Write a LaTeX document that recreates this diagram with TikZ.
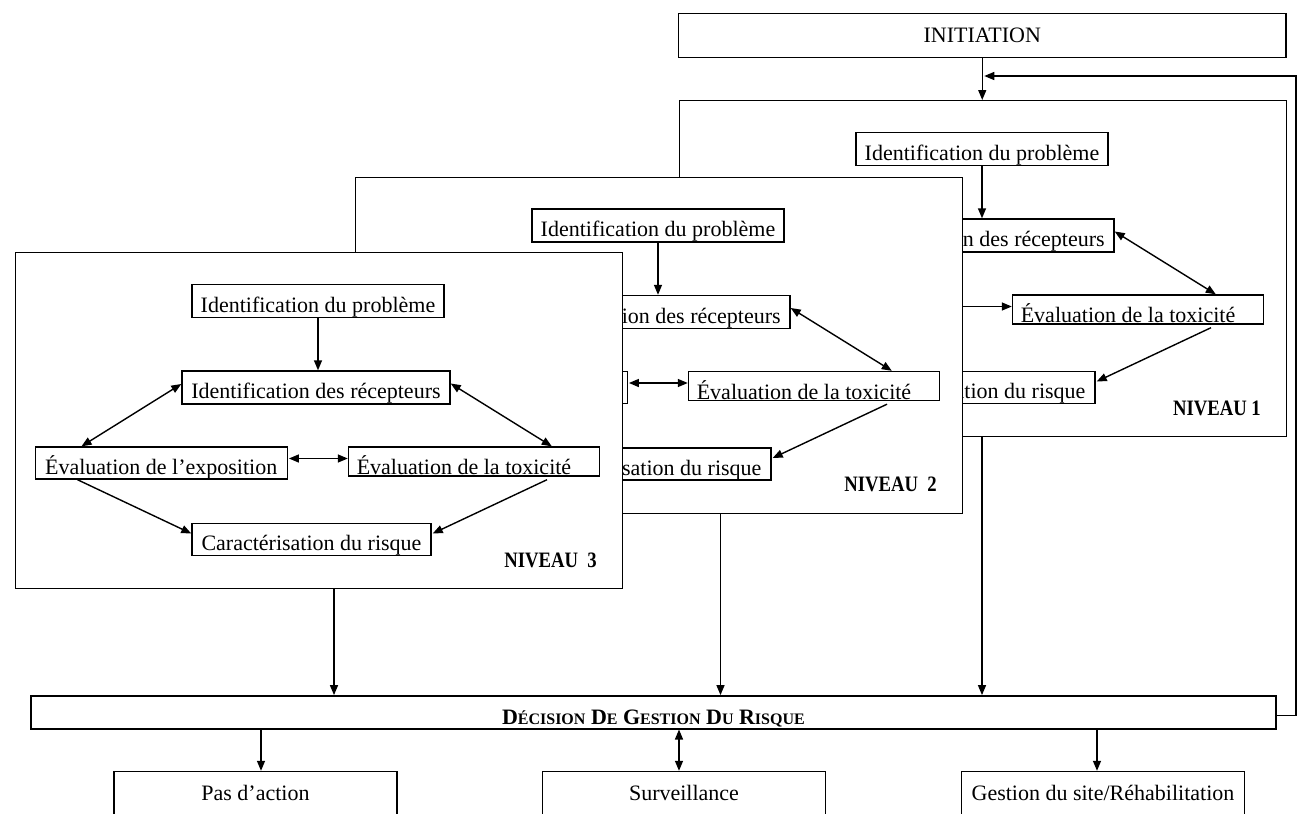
\documentclass[tikz,border=0pt]{standalone}
\usepackage{fontspec}
\usepackage{graphicx}
\setmainfont{Liberation Serif}
\usetikzlibrary{arrows.meta,calc}

% text lowered inside a box whose own height/depth is zero
\newcommand\low[2][-5.5pt]{\raisebox{#1}{#2}}
% hand-made small capitals: large initial, smaller rest
\newcommand\bigsc[2]{{\fontsize{11}{13}\selectfont #1}{\fontsize{8}{10}\selectfont #2}}

\tikzset{
  exptext/.store in=\exptext,
  exptext={Évaluation de l’exposition},
  arr/.style={-{Triangle[length=5pt,width=4pt]}},
  dblarr/.style={{Triangle[length=5pt,width=4pt]}-{Triangle[length=5pt,width=4pt]}},
  cell/.style={draw, fill=white, inner sep=0pt, text height=0pt, text depth=0pt,
    font=\fontsize{11}{13}\selectfont},
  stageframe/.style={draw, fill=white, inner sep=0pt, minimum width=303.75pt,
    minimum height=168pt, anchor=north west},
  stagetag/.style={font=\fontsize{11}{13}\selectfont\bfseries, anchor=base east, inner sep=0pt},
  % one assessment level: frame, five steps and their links
  riskstage/.pic={
    \node[stageframe] (-frame) at (0,0) {};
    \node[cell, minimum width=126pt, minimum height=16.5pt] (-prob) at (303.5,49)
      {\low{Identification du problème}};
    \node[cell, minimum width=134pt, minimum height=16.5pt] (-rec) at (301.5,135.5)
      {\low{Identification des récepteurs}};
    \node[cell, minimum width=126pt, minimum height=16pt] (-exp) at (146.7,211)
      {\low{\exptext}};
    \node[cell, minimum width=125.5pt, minimum height=14.5pt] (-tox) at (459.5,209.5)
      {\hspace*{-10pt}\low[-6.6pt]{Évaluation de la toxicité}};
    \node[cell, minimum width=119.5pt, minimum height=16pt] (-car) at (297,287.5)
      {\low{Caractérisation du risque}};
    \node[stagetag] (-tag) at (583,315) {\scalebox{0.85}[1]{#1}};
    \draw[arr] (-prob.south) -- (-prob.south |- -rec.north);
    \draw[dblarr] ($(-rec.west)+(0,-3.5)$) -- ($(-exp.north west)+(47,0)$);
    \draw[dblarr] ($(-rec.east)+(0,-4)$) -- ($(-tox.north west)+(204,0)$);
    \draw[dblarr] ($(-exp.east)+(1,-4.5)$) -- ($(-tox.west)+(0,-3)$);
    \draw[arr] ($(-exp.south west)+(43,0)$) -- ($(-car.west)+(0,-6)$);
    \draw[arr] ($(-tox.south)+(73,3)$) -- ($(-car.east)+(1,-6)$);
  }
}

\begin{document}
\begin{tikzpicture}[x=0.5pt,y=-0.5pt,line width=0.7pt]
\useasboundingbox (0,0) rectangle (1303,814);
\clip (0,0) rectangle (1303,814);

\node[cell, minimum width=303.75pt, minimum height=22pt] (init) at (982.25,35.3)
  {\low[-3.5pt]{INITIATION}};

% the three levels, each one laid over the previous
% (the exposure box of the two back levels is covered, so it stays blank)
\pic[exptext={}] (n1) at (678.5,100) {riskstage={NIVEAU 1}};
\pic[exptext={}] (n2) at (354.5,176.5) {riskstage={NIVEAU\ \ 2}};
\pic (n3) at (14.5,252) {riskstage={NIVEAU\ \ 3}};

\node[cell, minimum width=622.5pt, minimum height=16.5pt] (dec) at (653.4,712.3)
  {\low[-5.85pt]{\bfseries\bigsc{D}{ÉCISION} \bigsc{D}{E} \bigsc{G}{ESTION} \bigsc{D}{U} \bigsc{R}{ISQUE}}};

\node[cell, minimum width=141.5pt, minimum height=30pt] (pas) at (255.5,801.5)
  {\low[0.75pt]{Pas d’action}};
\node[cell, minimum width=141.5pt, minimum height=30pt] (surv) at (684,801.5)
  {\low[0.75pt]{Surveillance}};
\node[cell, minimum width=141.5pt, minimum height=30pt] (gest) at (1103,801.5)
  {\low[0.75pt]{Gestion du site/Réhabilitation}};

% initiation and feedback loop
\draw[arr] (init.south) -- (init.south |- n1-frame.north);
\coordinate (fb) at (1296,76);
\draw[arr] ($(dec.east)+(0,3)$) -| (fb) -- ([xshift=1pt]fb -| init.south);

% each level feeds the management decision
\draw[arr] (n1-prob.south |- n1-frame.south) -- (n1-prob.south |- dec.north);
\draw[arr] ($(n2-frame.south west)+(366,0)$) coordinate (d2) -- (d2 |- dec.north);
\draw[arr] ($(n3-frame.south west)+(319.5,0)$) coordinate (d3) -- (d3 |- dec.north);

% decision outcomes
\coordinate (p1) at ($(pas.north)+(5.5,0)$);
\coordinate (p2) at ($(surv.north)+(-5,0)$);
\coordinate (p3) at ($(gest.north)+(-6,0)$);
\draw[arr] (p1 |- dec.south) -- (p1);
\draw[dblarr] (p2 |- dec.south) -- (p2);
\draw[arr] (p3 |- dec.south) -- (p3);
\end{tikzpicture}
\end{document}
